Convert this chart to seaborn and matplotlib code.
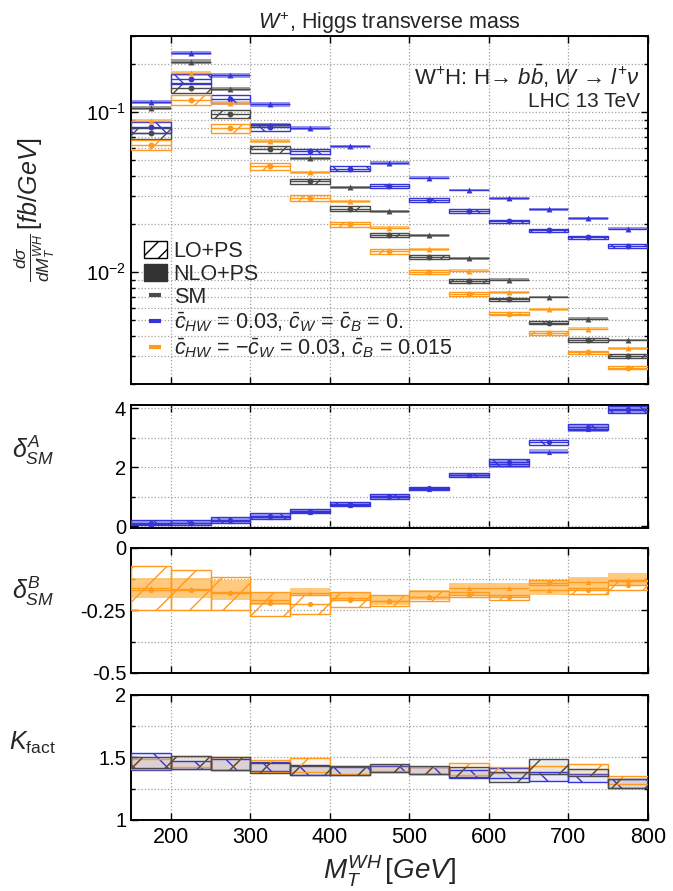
import numpy as np
import pandas as pd
import matplotlib
matplotlib.use("Agg")
import matplotlib.pyplot as plt
import seaborn as sns
from matplotlib.patches import Patch
from matplotlib.lines import Line2D
from matplotlib.ticker import LogLocator, NullFormatter, FixedLocator, FuncFormatter

# ---------------------------------------------------------------- data
bin_lo = [150, 200, 250, 300, 350, 400, 450, 500, 550, 600, 650, 700, 750]
bin_width = 50

# differential cross sections [fb/GeV]
sm_lo = [0.0739, 0.142, 0.0976, 0.059, 0.037, 0.0249, 0.0171, 0.0124, 0.00885, 0.00676, 0.00484, 0.00377, 0.0030]
sm_nlo = [0.107, 0.207, 0.140, 0.083, 0.0516, 0.034, 0.024, 0.017, 0.0122, 0.0090, 0.0070, 0.00513, 0.00377]
a_lo = [0.0806, 0.1615, 0.121, 0.0806, 0.057, 0.0443, 0.0348, 0.0284, 0.0243, 0.0208, 0.0183, 0.0165, 0.0146]
a_nlo = [0.1166, 0.235, 0.170, 0.112, 0.0799, 0.0613, 0.0483, 0.039, 0.0327, 0.029, 0.0247, 0.0218, 0.0187]
b_lo = [0.0625, 0.120, 0.0794, 0.046, 0.0291, 0.020, 0.0135, 0.0100, 0.00727, 0.00552, 0.00416, 0.00316, 0.00253]
b_nlo = [0.0887, 0.175, 0.114, 0.0662, 0.0422, 0.0277, 0.019, 0.0139, 0.0102, 0.0075, 0.00587, 0.00443, 0.00334]

# relative scale uncertainties (half widths)
lo_unc = [0.075, 0.07, 0.06, 0.05, 0.04, 0.035, 0.03, 0.03, 0.03, 0.025, 0.025, 0.025, 0.025]
nlo_unc = [0.03, 0.035, 0.03, 0.03, 0.025, 0.025, 0.025, 0.02, 0.02, 0.02, 0.02, 0.02, 0.02]

# delta^A_SM
dA_lo = [0.13, 0.13, 0.21, 0.35, 0.52, 0.76, 1.02, 1.29, 1.75, 2.17, 2.85, 3.38, 3.98]
dA_lo_err = [0.08, 0.09, 0.10, 0.10, 0.07, 0.07, 0.08, 0.06, 0.06, 0.12, 0.08, 0.10, 0.12]
dA_nlo = [0.10, 0.12, 0.19, 0.33, 0.50, 0.74, 1.00, 1.27, 1.73, 2.12, 2.54, 3.32, 3.96]
dA_nlo_err = [0.09, 0.10, 0.11, 0.12, 0.08, 0.07, 0.08, 0.06, 0.07, 0.13, 0.08, 0.13, 0.13]

# delta^B_SM
dB_lo = [-0.17, -0.17, -0.18, -0.22, -0.225, -0.207, -0.213, -0.197, -0.187, -0.197, -0.14, -0.17, -0.147]
dB_lo_low = [-0.25, -0.25, -0.25, -0.273, -0.264, -0.237, -0.233, -0.213, -0.197, -0.207, -0.149, -0.184, -0.17]
dB_lo_high = [-0.073, -0.09, -0.117, -0.176, -0.19, -0.176, -0.19, -0.173, -0.176, -0.187, -0.127, -0.16, -0.133]
dB_nlo = [-0.16, -0.165, -0.175, -0.207, -0.18, -0.20, -0.213, -0.195, -0.16, -0.16, -0.17, -0.137, -0.127]
dB_nlo_low = [-0.20, -0.20, -0.21, -0.229, -0.19, -0.213, -0.23, -0.21, -0.193, -0.20, -0.189, -0.167, -0.153]
dB_nlo_high = [-0.12, -0.12, -0.13, -0.176, -0.16, -0.176, -0.19, -0.168, -0.14, -0.14, -0.127, -0.117, -0.10]

# K factors (band edges)
k_sm_low = [1.413, 1.405, 1.40, 1.373, 1.36, 1.36, 1.387, 1.368, 1.341, 1.307, 1.368, 1.35, 1.253]
k_sm_high = [1.50, 1.51, 1.50, 1.453, 1.43, 1.43, 1.448, 1.43, 1.427, 1.387, 1.485, 1.41, 1.325]
k_a_low = [1.40, 1.41, 1.40, 1.39, 1.36, 1.36, 1.38, 1.37, 1.333, 1.333, 1.315, 1.307, 1.253]
k_a_high = [1.533, 1.47, 1.49, 1.46, 1.44, 1.42, 1.43, 1.42, 1.40, 1.413, 1.387, 1.368, 1.325]
k_b_low = [1.41, 1.42, 1.40, 1.387, 1.387, 1.37, 1.39, 1.37, 1.36, 1.373, 1.37, 1.36, 1.288]
k_b_high = [1.49, 1.51, 1.50, 1.48, 1.493, 1.43, 1.44, 1.42, 1.459, 1.42, 1.43, 1.448, 1.352]

xticks = [200, 300, 400, 500, 600, 700, 800]

# ---------------------------------------------------------------- style
sns.set_theme(style="ticks")
plt.rcParams["font.family"] = ["Liberation Sans", "DejaVu Sans"]
plt.rcParams["mathtext.fontset"] = "custom"
plt.rcParams["mathtext.rm"] = "Liberation Sans"
plt.rcParams["mathtext.it"] = "Liberation Sans:italic"
plt.rcParams["mathtext.bf"] = "Liberation Sans:bold"
plt.rcParams["axes.unicode_minus"] = False
plt.rcParams["hatch.linewidth"] = 1.0

SM_BAND, SM_LINE = "#8e8e8e", "#4a4a4a"
A_BAND, A_LINE = "#8686f2", "#3434d8"
B_BAND, B_LINE = "#ffbd5c", "#ff9a1c"

lo_arr = np.array(bin_lo, dtype=float)
hi_arr = lo_arr + bin_width
mid_arr = lo_arr + bin_width / 2


def band(ax, low, high, color, alpha=0.85, z=2):
    low = np.asarray(low, dtype=float)
    high = np.asarray(high, dtype=float)
    ax.bar(lo_arr, high - low, bottom=low, width=bin_width, align="edge",
           color=color, alpha=alpha, linewidth=0, zorder=z)


def hatched(ax, low, high, color, hatch, z=3):
    low = np.asarray(low, dtype=float)
    high = np.asarray(high, dtype=float)
    ax.bar(lo_arr, high - low, bottom=low, width=bin_width, align="edge",
           facecolor="none", edgecolor=color, hatch=hatch, linewidth=1.0, zorder=z)


def central(ax, vals, color, marker, z=4, size=18):
    vals = np.asarray(vals, dtype=float)
    ax.hlines(vals, lo_arr, hi_arr, color=color, lw=1.0, zorder=z)
    df = pd.DataFrame({"mt": mid_arr, "val": vals})
    sns.scatterplot(data=df, x="mt", y="val", ax=ax, color=color, marker=marker,
                    s=size, linewidth=0, legend=False, zorder=z + 1)


fig = plt.figure(figsize=(6.73, 8.91), dpi=100)
L, W = 0.1947, 0.768
ax0 = fig.add_axes([L, 0.569, W, 0.3906])
ax1 = fig.add_axes([L, 0.4078, W, 0.1377])
ax2 = fig.add_axes([L, 0.2447, W, 0.1403])
ax3 = fig.add_axes([L, 0.0797, W, 0.1403])

# ---------------------------------------------------------------- main panel
ax0.set_yscale("log")
for nlo, color in [(sm_nlo, SM_BAND), (a_nlo, A_BAND), (b_nlo, B_BAND)]:
    v = np.array(nlo)
    u = np.array(nlo_unc)
    band(ax0, v * (1 - u), v * (1 + u), color)
for lo, color, h in [(sm_lo, SM_LINE, "/"), (a_lo, A_LINE, "\\"), (b_lo, B_LINE, "/")]:
    v = np.array(lo)
    u = np.array(lo_unc)
    hatched(ax0, v * (1 - u), v * (1 + u), color, h)
for nlo, lo, color in [(sm_nlo, sm_lo, SM_LINE), (a_nlo, a_lo, A_LINE), (b_nlo, b_lo, B_LINE)]:
    central(ax0, nlo, color, "^")
    central(ax0, lo, color, "o")

ax0.set_ylim(0.002, 0.3)
ax0.yaxis.set_major_locator(LogLocator(base=10))
ax0.yaxis.set_minor_locator(LogLocator(base=10, subs=np.arange(2, 10)))
ax0.yaxis.set_minor_formatter(NullFormatter())
ax0.set_ylabel(r"$\frac{d\sigma}{dM_T^{WH}}\,[fb/GeV]$", fontsize=18)
ax0.yaxis.set_label_coords(-0.143, 0.5)
ax0.set_title(r"$W^{+}$, Higgs transverse mass", fontsize=15.5, pad=4)
ax0.text(0.985, 0.885, r"W$^{+}$H: H→ $b\bar{b}$, $W$ → $l^{+}\nu$",
         transform=ax0.transAxes, ha="right", va="center", fontsize=16)
ax0.text(0.985, 0.812, "LHC 13 TeV", transform=ax0.transAxes, ha="right",
         va="center", fontsize=15)

handles = [
    Patch(facecolor="white", edgecolor="black", hatch="//", linewidth=1.0),
    Patch(facecolor="#333333", edgecolor="#333333"),
    Line2D([], [], color=SM_LINE, marker="_", markersize=9, markeredgewidth=3, linestyle="none"),
    Line2D([], [], color=A_LINE, marker="_", markersize=9, markeredgewidth=3, linestyle="none"),
    Line2D([], [], color=B_LINE, marker="_", markersize=9, markeredgewidth=3, linestyle="none"),
]
labels = [
    "LO+PS",
    "NLO+PS",
    "SM",
    r"$\bar{c}_{HW}$ = 0.03, $\bar{c}_{W}$ = $\bar{c}_{B}$ = 0.",
    r"$\bar{c}_{HW}$ = $-\bar{c}_{W}$ = 0.03, $\bar{c}_{B}$ = 0.015",
]
ax0.legend(handles, labels, loc="lower left", bbox_to_anchor=(-0.005, 0.025),
           frameon=False, fontsize=15.5, handlelength=1.1, handleheight=0.85,
           handletextpad=0.3, labelspacing=0.1, borderpad=0.2)

# ---------------------------------------------------------------- delta A
band(ax1, np.array(dA_nlo) - np.array(dA_nlo_err), np.array(dA_nlo) + np.array(dA_nlo_err), A_BAND, alpha=0.75)
hatched(ax1, np.array(dA_lo) - np.array(dA_lo_err), np.array(dA_lo) + np.array(dA_lo_err), A_LINE, "\\")
central(ax1, dA_nlo, A_LINE, "^", size=14)
central(ax1, dA_lo, A_LINE, "o", size=14)
ax1.set_ylim(-0.04, 4.12)
ax1.yaxis.set_major_locator(FixedLocator([0, 2, 4]))
ax1.yaxis.set_minor_locator(FixedLocator([1, 3]))
ax1.set_ylabel(r"$\delta^{A}_{SM}$", fontsize=18, rotation=0, ha="center", va="center")
ax1.yaxis.set_label_coords(-0.19, 0.63)

# ---------------------------------------------------------------- delta B
band(ax2, dB_nlo_low, dB_nlo_high, B_BAND, alpha=0.8)
hatched(ax2, dB_lo_low, dB_lo_high, B_LINE, "/")
central(ax2, dB_nlo, B_LINE, "^", size=14)
central(ax2, dB_lo, B_LINE, "o", size=14)
ax2.set_ylim(-0.5, 0)
ax2.yaxis.set_major_locator(FixedLocator([-0.5, -0.25, 0]))
ax2.yaxis.set_minor_locator(FixedLocator([-0.375, -0.125]))
ax2.yaxis.set_major_formatter(FuncFormatter(lambda v, p: "0" if v == 0 else f"{v:g}"))
ax2.set_ylabel(r"$\delta^{B}_{SM}$", fontsize=18, rotation=0, ha="center", va="center")
ax2.yaxis.set_label_coords(-0.19, 0.65)

# ---------------------------------------------------------------- K factor
for low, high, color, h in [(k_a_low, k_a_high, A_LINE, "\\"),
                            (k_b_low, k_b_high, B_LINE, "/"),
                            (k_sm_low, k_sm_high, SM_LINE, "/")]:
    band(ax3, low, high, color, alpha=0.1)
    hatched(ax3, low, high, color, h)
ax3.set_ylim(1, 2)
ax3.yaxis.set_major_locator(FixedLocator([1, 1.5, 2]))
ax3.yaxis.set_minor_locator(FixedLocator([1.25, 1.75]))
ax3.yaxis.set_major_formatter(FuncFormatter(lambda v, p: f"{v:g}"))
ax3.set_ylabel(r"$K_{\rm fact}$", fontsize=18, rotation=0, ha="center", va="center")
ax3.yaxis.set_label_coords(-0.19, 0.62)
ax3.set_xlabel(r"$M_T^{WH}\,[GeV]$", fontsize=20, labelpad=4)

# ---------------------------------------------------------------- common axis styling
for ax in (ax0, ax1, ax2, ax3):
    ax.set_xlim(150, 800)
    ax.xaxis.set_major_locator(FixedLocator(xticks))
    ax.set_axisbelow(True)
    ax.grid(True, which="both", axis="y", linestyle=":", color="#a0a0a0", linewidth=0.9)
    ax.grid(True, which="major", axis="x", linestyle=":", color="#a0a0a0", linewidth=0.9)
    ax.tick_params(which="both", direction="in", top=True, right=True, width=1.0,
                   labelsize=14.5, colors="black")
    ax.tick_params(which="major", length=5)
    ax.tick_params(which="minor", length=3)
    for s in ax.spines.values():
        s.set_linewidth(1.4)
        s.set_color("black")
    if ax is not ax3:
        ax.tick_params(labelbottom=False)
        ax.set_xlabel("")
ax3.tick_params(axis="x", labelsize=15.5, pad=5)

fig.savefig("out.png", dpi=100)
